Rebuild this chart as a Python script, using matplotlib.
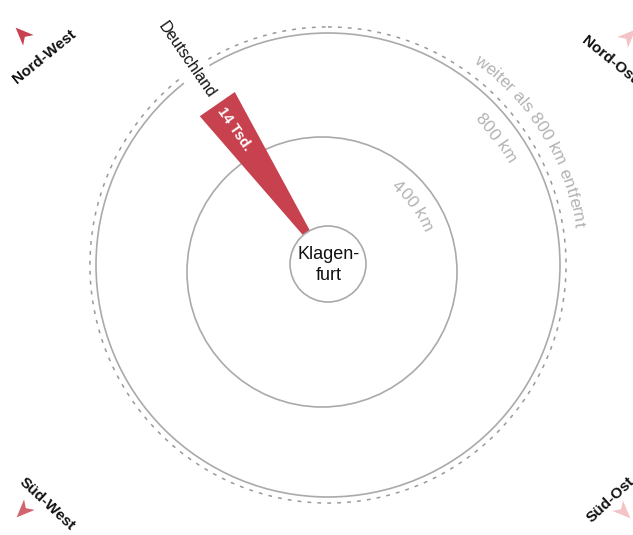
import numpy as np
import matplotlib.pyplot as plt
from matplotlib.patches import Circle, Polygon
from matplotlib.font_manager import FontProperties

plt.rcParams['font.family'] = ['Liberation Sans', 'DejaVu Sans']

# data
origin = "Klagen-\nfurt"
countries = ["Deutschland"]
distance_km = [650]
visitors_tsd = [14]
bearing_deg = [-34.7]          # compass bearing from Klagenfurt, negative = west
ring_km = [400, 800]
ring_labels = ["400 km", "800 km"]
far_km = 825
far_label = "weiter als 800 km entfernt"
directions = ["Nord-West", "Nord-Ost", "Süd-West", "Süd-Ost"]
direction_colors = ["#c8414f", "#f3c3c5", "#d0646f", "#f3c3c5"]

W, H = 633, 535
fig = plt.figure(figsize=(W / 100, H / 100), dpi=100)
ax = fig.add_axes([0, 0, 1, 1])
ax.set_xlim(0, W)
ax.set_ylim(H, 0)
ax.set_aspect('equal')
ax.axis('off')
renderer = fig.canvas.get_renderer()

cx, cy = 328, 264
r0 = 38
px_per_km = (232 - r0) / 800
deg_per_tsd = 12.5 / 14
ring_offset = {400: (-6, 8), 800: (0, 1)}
ring_label_bearing = {400: 54, 800: 53}
grey = "#aaaaaa"
label_grey = "#b3b3b3"


def radius(km):
    return r0 + km * px_per_km


def polar(r, bearing, c=(cx, cy)):
    t = np.radians(bearing)
    return c[0] + r * np.sin(t), c[1] - r * np.cos(t)


def curved_text(s, r, bearing_mid, c, size, color):
    fp = FontProperties(family=['Liberation Sans'], size=size)

    def w(t):
        return renderer.get_text_width_height_descent(t, fp, ismath=False)[0] if t else 0

    total = w(s)
    for i, ch in enumerate(s):
        mid = (w(s[:i]) + w(s[:i + 1])) / 2 - total / 2
        b = bearing_mid + np.degrees(mid / r)
        x, y = polar(r, b, c)
        ax.text(x, y, ch, rotation=-b, rotation_mode='anchor', ha='center',
                va='baseline', fontproperties=fp, color=color, zorder=2)


# rings
for km, lab in zip(ring_km, ring_labels):
    c = (cx + ring_offset[km][0], cy + ring_offset[km][1])
    ax.add_patch(Circle(c, radius(km), fill=False, ec=grey, lw=1.2, zorder=1))
    curved_text(lab, radius(km) - 26, ring_label_bearing[km], c, 12.5, label_grey)

c800 = (cx, cy + 1)
ax.add_patch(Circle(c800, radius(far_km), fill=False, ec="#999999", lw=1.1,
                    ls=(0, (2.5, 4)), zorder=1))
curved_text(far_label, radius(far_km) + 11, 58.5, c800, 12.5, label_grey)

# wedges
for name, km, v, b in zip(countries, distance_km, visitors_tsd, bearing_deg):
    half = v * deg_per_tsd / 2
    R = radius(km)
    pts = [(cx, cy), polar(R, b - half), polar(R, b + half)]
    ax.add_patch(Polygon(pts, closed=True, fc="#c8414f", ec="none", zorder=3))
    x, y = polar(R + 52, b)
    ax.text(x, y, name, rotation=-(90 + b), rotation_mode='anchor', ha='center',
            va='center', fontsize=11.5, color="#111111", zorder=2,
            bbox=dict(boxstyle='square,pad=0.5', fc='white', ec='none'))
    x, y = polar(R - 32, b)
    ax.text(x, y, f"{v} Tsd.", rotation=-(90 + b), rotation_mode='anchor', ha='center',
            va='center', fontsize=10.5, fontweight='bold', color="white", zorder=4)

# origin
ax.add_patch(Circle((cx, cy), r0, fc='white', ec=grey, lw=1.2, zorder=5))
ax.text(cx + 1, cy + 1, origin, ha='center', va='center', fontsize=13,
        linespacing=1.3, color="#111111", zorder=6)

# compass corners (the east labels run off the edge, as in the original)
label_pos = [(44, 57, 39), (609, 60, -39), (47, 504, -43), (611, 500, 43)]
arrow_pos = [(22, 34, -45), (629, 36, 45), (23, 511, -135), (624, 512, 135)]
for lab, col, (tx, ty, rot), (axx, ayy, ab) in zip(directions, direction_colors, label_pos, arrow_pos):
    ax.text(tx, ty, lab, rotation=rot, rotation_mode='anchor', ha='center', va='center',
            fontsize=11, fontweight='bold', color="#111111")
    t = np.radians(ab)
    f = np.array([np.sin(t), -np.cos(t)])
    rr = np.array([np.cos(t), np.sin(t)])
    L, wd, notch = 18, 15, 5
    local = [(0, L / 2), (wd / 2, -L / 2), (0, -L / 2 + notch), (-wd / 2, -L / 2)]
    pts = [np.array([axx, ayy]) + a * f + bb * rr for bb, a in local]
    ax.add_patch(Polygon(pts, closed=True, fc=col, ec='none'))

fig.savefig("out.png", dpi=100)
